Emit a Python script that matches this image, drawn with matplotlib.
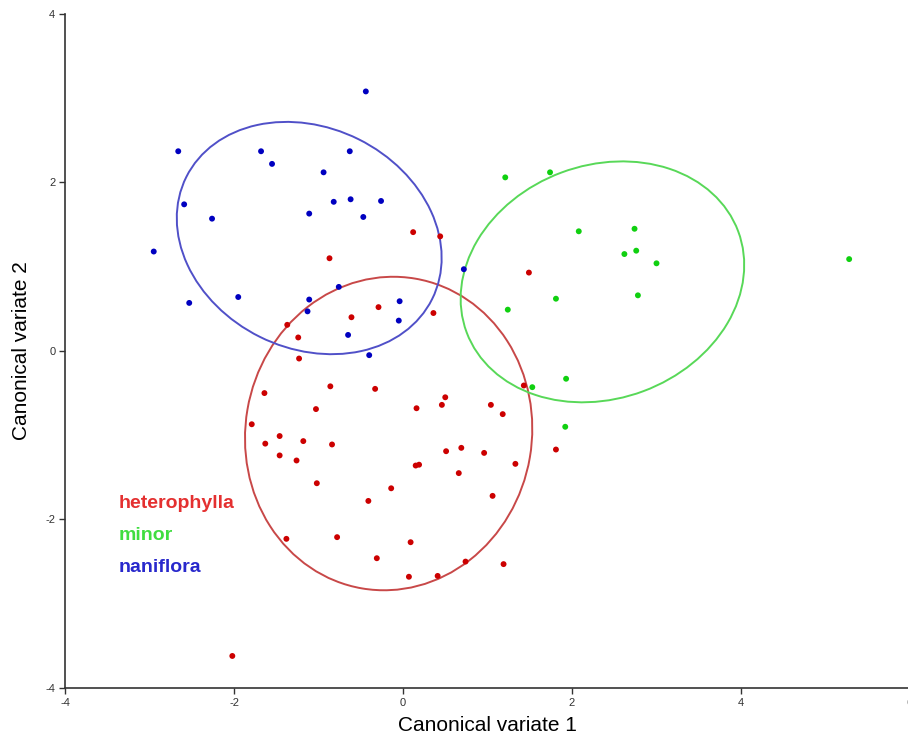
import matplotlib
matplotlib.use('Agg')
import matplotlib.pyplot as plt
from matplotlib.patches import Ellipse

plt.rcParams['axes.unicode_minus'] = False

# Puntos por grupo (variate 1, variate 2)
hetero_x = [0.12, 0.44, -0.87, 1.49, -1.37, -1.24, -1.23, -0.61, -0.29, 0.36,
            -1.64, -0.86, -0.33, -1.03, 0.16, 0.50, 0.46, 1.04, 1.18, 1.43,
            -1.79, -1.46, -1.63, -1.18, -0.84, -1.46, -1.26, 0.51, 0.69, 0.96,
            0.15, 0.19, 1.33, 0.66, -1.02, -0.14, -0.41, 1.06, -1.38, -0.78,
            0.09, -0.31, 0.74, 1.19, 0.07, 0.41, 1.81, -2.02]
hetero_y = [1.41, 1.36, 1.10, 0.93, 0.31, 0.16, -0.09, 0.40, 0.52, 0.45,
            -0.50, -0.42, -0.45, -0.69, -0.68, -0.55, -0.64, -0.64, -0.75, -0.41,
            -0.87, -1.01, -1.10, -1.07, -1.11, -1.24, -1.30, -1.19, -1.15, -1.21,
            -1.36, -1.35, -1.34, -1.45, -1.57, -1.63, -1.78, -1.72, -2.23, -2.21,
            -2.27, -2.46, -2.50, -2.53, -2.68, -2.67, -1.17, -3.62]

minor_x = [1.21, 1.74, 2.08, 2.74, 2.62, 2.76, 3.00, 2.78, 1.81, 1.24, 5.28, 1.93, 1.53, 1.92]
minor_y = [2.06, 2.12, 1.42, 1.45, 1.15, 1.19, 1.04, 0.66, 0.62, 0.49, 1.09, -0.33, -0.43, -0.90]

nani_x = [-0.44, -2.66, -1.68, -1.55, -0.63, -0.94, -2.59, -2.26, -1.11, -0.82, -0.62, -0.26,
          -0.47, -2.95, -1.95, -2.53, -0.76, -1.11, -1.13, -0.65, -0.04, -0.05, -0.40, 0.72]
nani_y = [3.08, 2.37, 2.37, 2.22, 2.37, 2.12, 1.74, 1.57, 1.63, 1.77, 1.80, 1.78,
          1.59, 1.18, 0.64, 0.57, 0.76, 0.61, 0.47, 0.19, 0.59, 0.36, -0.05, 0.97]

# Elipses: centro, ancho, alto, angulo
elipses = {
    'heterophylla': ((-0.17, -0.98), 3.39, 3.73, -9.7),
    'minor': ((2.36, 0.82), 3.43, 2.77, 20.5),
    'naniflora': ((-1.11, 1.34), 3.25, 2.62, -26.5),
}

grupos = ['heterophylla', 'minor', 'naniflora']
col_puntos = {'heterophylla': '#cc0000', 'minor': '#10d010', 'naniflora': '#0000c0'}
col_elipse = {'heterophylla': '#c84848', 'minor': '#58d858', 'naniflora': '#5050c8'}
col_texto = {'heterophylla': '#e43030', 'minor': '#40dd40', 'naniflora': '#2828cc'}
datos = {'heterophylla': (hetero_x, hetero_y), 'minor': (minor_x, minor_y),
         'naniflora': (nani_x, nani_y)}

fig = plt.figure(figsize=(9.08, 7.44), dpi=100)
ax = fig.add_axes([0.0716, 0.0753, 0.9306, 0.906])

for g in grupos:
    c, w, h, a = elipses[g]
    ax.add_patch(Ellipse(c, w, h, angle=a, fill=False, edgecolor=col_elipse[g], lw=1.4, zorder=2))
    x, y = datos[g]
    ax.scatter(x, y, s=18, color=col_puntos[g], edgecolors='none', zorder=3)

ax.set_xlim(-4, 6)
ax.set_ylim(-4, 4)
ax.set_xticks([-4, -2, 0, 2, 4, 6])
ax.set_yticks([-4, -2, 0, 2, 4])
ax.spines['top'].set_visible(False)
ax.spines['right'].set_visible(False)
for s in ['left', 'bottom']:
    ax.spines[s].set_color('#333333')
    ax.spines[s].set_linewidth(1.2)
ax.tick_params(direction='out', length=4, width=1, colors='#333333', labelsize=8, pad=3)
for lab in ax.get_xticklabels() + ax.get_yticklabels():
    lab.set_family(['Liberation Sans Narrow', 'Liberation Sans'])

ax.set_xlabel('Canonical variate 1', fontsize=15, family='Liberation Sans', labelpad=6)
ax.set_ylabel('Canonical variate 2', fontsize=15, family='Liberation Sans', labelpad=10)

# Leyenda de texto
for i, g in enumerate(grupos):
    ax.text(-3.36, -1.81 - i * 0.38, g, color=col_texto[g], fontsize=14, fontweight='semibold',
            family='Liberation Sans', va='center', ha='left')

fig.savefig('out.png', dpi=100)
